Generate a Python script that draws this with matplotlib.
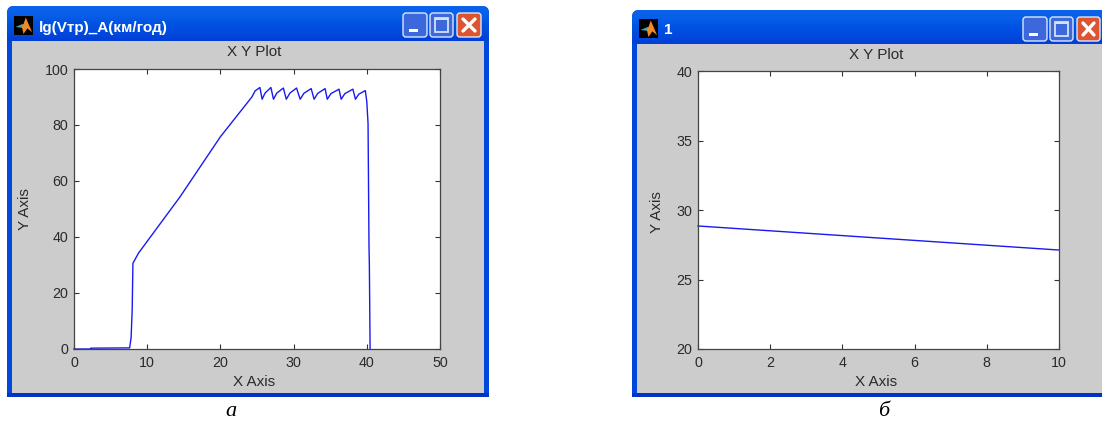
import numpy as np
import matplotlib
matplotlib.use("Agg")
import matplotlib.pyplot as plt
from matplotlib.patches import FancyBboxPatch, Rectangle, Polygon

W, H = 1102, 423

# Data
left_x = [0, 2.3, 2.3, 7.6, 7.8, 7.95, 8.05, 8.8, 14.5, 20, 24.3, 24.75, 25.4, 25.7,
          26.1, 26.9, 27.25, 27.7, 28.6, 29.0, 29.5, 30.4, 30.9, 31.4, 32.4, 32.8, 33.3, 34.3, 34.6, 35.1, 36.2, 36.5,
          37.0, 38.1, 38.45, 38.9, 39.8, 40.0, 40.17, 40.3, 40.35, 40.45]
left_y = [0, 0, 0.3, 0.4, 4, 14, 30.6, 34.2, 54.4, 75.8, 90, 92.2, 93.4, 89.2,
          91.4, 93.4, 89.2, 91.4, 93.2, 89.2, 91.4, 93.2, 89.2, 91.3, 93.0, 89.2, 91.3, 93.0, 89.2, 91.2, 92.8, 89.2,
          91.2, 92.8, 89.2, 91.0, 92.3, 88.3, 80.6, 37, 30, 0]
right_x = [0, 10]
right_y = [28.85, 27.12]
left_xticks = [0, 10, 20, 30, 40, 50]
left_yticks = [0, 20, 40, 60, 80, 100]
right_xticks = [0, 2, 4, 6, 8, 10]
right_yticks = [20, 25, 30, 35, 40]
left_window_title = "lg(Vтр)_А(км/год)"
right_window_title = "1"

SANS = "Liberation Sans"
plt.rcParams["font.family"] = SANS

fig = plt.figure(figsize=(W / 100, H / 100), dpi=100, facecolor="white")
chrome = fig.add_axes([0, 0, 1, 1], zorder=0)
chrome.set_axis_off()


def window(x0, y0, x1, y1, client_l, client_t, client_r, client_b):
    box = FancyBboxPatch((x0 + 6, y0 + 6), x1 - x0 - 12, y1 - y0 - 12, boxstyle="round,pad=6,rounding_size=7",
                         fc="#0048DC", ec="none")
    chrome.add_patch(box)
    grad = [0.0, 0.08, 0.2, 0.45, 0.6, 0.7, 0.8, 1.0]
    c0 = np.array([0x0a, 0x62, 0xea]); c1 = np.array([0x00, 0x54, 0xe3]); c2 = np.array([0x00, 0x40, 0xd8])
    rows = []
    for g in grad:
        rows.append(c0 + (c1 - c0) * g / 0.5 if g < 0.5 else c1 + (c2 - c1) * (g - 0.5) / 0.5)
    img = np.array(rows)[:, None, :] / 255
    im = chrome.imshow(img, extent=(x0, x1, client_t, y0), aspect="auto", interpolation="bilinear", zorder=1)
    im.set_clip_path(box)
    chrome.add_patch(Rectangle((x0, client_b), x1 - x0, y1 - client_b, fc="#0032C8", ec="none", zorder=1))
    chrome.add_patch(Rectangle((x0, client_t), client_l - x0, client_b - client_t, fc="#0048DC", ec="none", zorder=1))
    chrome.add_patch(Rectangle((client_r, client_t), x1 - client_r, client_b - client_t, fc="#0048DC", ec="none", zorder=1))
    chrome.add_patch(Rectangle((client_l, client_t), client_r - client_l, client_b - client_t,
                               fc="#CCCCCC", ec="none", zorder=2))


def button(x0, y0, x1, y1, color):
    chrome.add_patch(FancyBboxPatch((x0 + 2, y0 + 2), x1 - x0 - 4, y1 - y0 - 4,
                                    boxstyle="round,pad=2,rounding_size=3", fc=color, ec="#DCE6FA", lw=1, zorder=3))


def buttons(bx, y0):
    (a, b), (c, d), (e, f) = bx
    y1 = y0 + 24
    button(a, y0, b, y1, "#3D68DC")
    chrome.add_patch(Rectangle((a + 6, y1 - 8), 9, 3, fc="white", ec="none", zorder=4))
    button(c, y0, d, y1, "#3D68DC")
    chrome.add_patch(Rectangle((c + 5, y0 + 5), d - c - 10, y1 - y0 - 10, fc="none", ec="#D5E0FA", lw=1.3, zorder=4))
    chrome.add_patch(Rectangle((c + 5, y0 + 5), d - c - 10, 2.5, fc="#D5E0FA", ec="none", zorder=4))
    button(e, y0, f, y1, "#DC5430")
    chrome.plot([e + 6, f - 6], [y0 + 6, y1 - 6], color="white", lw=2.4, zorder=4, solid_capstyle="round")
    chrome.plot([e + 6, f - 6], [y1 - 6, y0 + 6], color="white", lw=2.4, zorder=4, solid_capstyle="round")


def icon(x0, y0, s=19):
    chrome.add_patch(Rectangle((x0, y0), s, s, fc="black", ec="none", zorder=3))
    chrome.add_patch(Polygon([(x0 + .2 * s, y0 + .55 * s), (x0 + .5 * s, y0 + .42 * s), (x0 + .62 * s, y0 + .08 * s),
                              (x0 + .95 * s, y0 + .85 * s), (x0 + .7 * s, y0 + .65 * s), (x0 + .5 * s, y0 + .95 * s),
                              (x0 + .42 * s, y0 + .6 * s)], fc="#F08A24", ec="none", zorder=4))
    chrome.add_patch(Polygon([(x0 + .08 * s, y0 + .58 * s), (x0 + .45 * s, y0 + .42 * s), (x0 + .42 * s, y0 + .62 * s)],
                             fc="#3FA7B5", ec="none", zorder=5))


window(7, 6, 489, 397, 12, 41, 484, 393)
window(632, 10, 1125, 397, 637, 44, 1120, 393)
buttons([(403, 427), (430, 453), (457, 481)], 13)
buttons([(1023, 1047), (1050, 1073), (1077, 1100)], 17)
icon(14, 16)
icon(639, 19)
chrome.text(38.5, 28, left_window_title, color="white", fontsize=11, fontweight="bold", family="Liberation Sans",
            va="center", ha="left", zorder=5)
chrome.text(664, 30.5, right_window_title, color="white", fontsize=11, fontweight="bold", family="Liberation Sans",
            va="center", ha="left", zorder=5)
chrome.text(231, 412, "а", family="Liberation Serif", style="italic", fontsize=16, ha="center", va="center")
chrome.text(884, 411, "б", family="Liberation Serif", style="italic", fontsize=16, ha="center", va="center")
chrome.set_xlim(0, W)
chrome.set_ylim(H, 0)


def scope(l, t, r, b, xs, ys, xlim, ylim, xt, yt, title_xy, ylab_xy, xlab_xy):
    ax = fig.add_axes([l / W, 1 - b / H, (r - l) / W, (b - t) / H], zorder=2, facecolor="white")
    ax.plot(xs, ys, color="#1A1AF0", lw=1.0, clip_on=False)
    ax.set_xlim(*xlim)
    ax.set_ylim(*ylim)
    ax.set_xticks(xt)
    ax.set_yticks(yt)
    ax.tick_params(direction="in", length=3.6, width=0.8, color="#333333", labelcolor="#2A2A2A", labelsize=10.3,
                   top=True, right=True)
    ax.tick_params(axis="x", pad=5)
    ax.tick_params(axis="y", pad=4)
    for s in ax.spines.values():
        s.set_color("#444444")
        s.set_linewidth(0.9)
    chrome.text(*title_xy, "X Y Plot", fontsize=11, color="#2A2A2A", ha="center", va="center", zorder=5)
    chrome.text(*xlab_xy, "X Axis", fontsize=11, color="#2A2A2A", ha="center", va="center", zorder=5)
    chrome.text(*ylab_xy, "Y Axis", fontsize=11, color="#2A2A2A", rotation=90,
                ha="center", va="center", zorder=5)


scope(74, 69, 440, 349, left_x, left_y, (0, 50), (0, 100), left_xticks, left_yticks, (254, 52), (25, 209), (254, 382))
scope(698, 71, 1059, 349, right_x, right_y, (0, 10), (20, 40), right_xticks, right_yticks, (876, 55), (657, 212), (876, 382))

fig.savefig("out.png", dpi=100, facecolor="white")
